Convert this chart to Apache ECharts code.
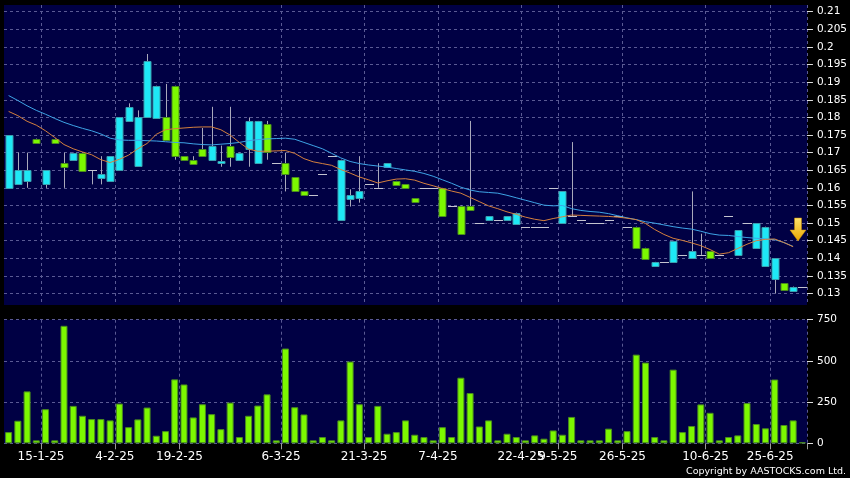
<!DOCTYPE html>
<html>
<head>
<meta charset="utf-8">
<script src="https://cdn.jsdelivr.net/npm/echarts@6/dist/echarts.min.js"></script>
<style>
  html, body { margin: 0; padding: 0; background: #000; }
  #chart { width: 850px; height: 478px; }
</style>
</head>
<body>
<div id="chart"></div>
<script>
const dates = ['9-1-25','10-1-25','13-1-25','14-1-25','15-1-25','16-1-25','17-1-25','20-1-25','21-1-25','23-1-25',
  '24-1-25','3-2-25','4-2-25','5-2-25','6-2-25','7-2-25','10-2-25','12-2-25','17-2-25','19-2-25',
  '20-2-25','21-2-25','24-2-25','25-2-25','26-2-25','27-2-25','28-2-25','3-3-25','4-3-25','5-3-25',
  '6-3-25','7-3-25','10-3-25','11-3-25','12-3-25','13-3-25','14-3-25','18-3-25','20-3-25','21-3-25',
  '24-3-25','25-3-25','26-3-25','27-3-25','31-3-25','1-4-25','3-4-25','7-4-25','8-4-25','9-4-25',
  '10-4-25','11-4-25','14-4-25','15-4-25','16-4-25','17-4-25','22-4-25','24-4-25','29-4-25','6-5-25',
  '9-5-25','12-5-25','13-5-25','15-5-25','19-5-25','21-5-25','23-5-25','26-5-25','27-5-25','28-5-25',
  '29-5-25','30-5-25','2-6-25','3-6-25','4-6-25','9-6-25','10-6-25','11-6-25','13-6-25','16-6-25',
  '18-6-25','20-6-25','24-6-25','25-6-25','26-6-25','27-6-25','30-6-25'];

const tickLabels = ['15-1-25','4-2-25','19-2-25','6-3-25','21-3-25','7-4-25','22-4-25','9-5-25','26-5-25','10-6-25','25-6-25'];

const opens = [.160,.161,.162,.174,.161,.174,.167,.168,.170,.165,
  .163,.162,.165,.179,.166,.180,.180,.180,.189,.169,
  .168,.171,.168,.167,.172,.168,.171,.167,.178,.167,
  .167,.163,.159,.158,.164,.169,.151,.157,.157,.161,
  .160,.166,.162,.161,.157,.160,.160,.160,.155,.155,
  .155,.150,.151,.151,.151,.150,.149,.149,.149,.160,
  .150,.152,.151,.150,.150,.151,.152,.149,.149,.143,
  .138,.139,.139,.141,.140,.141,.142,.141,.152,.141,
  .150,.143,.138,.134,.133,.131,.132];
const closes = [.175,.165,.165,.173,.165,.173,.166,.170,.165,.165,
  .164,.169,.180,.183,.180,.196,.189,.1735,.169,.168,
  .167,.169,.172,.1677,.169,.170,.179,.179,.170,.167,
  .164,.159,.158,.158,.164,.169,.168,.158,.159,.161,
  .160,.167,.161,.160,.156,.160,.160,.152,.155,.147,
  .154,.150,.152,.151,.152,.153,.149,.149,.149,.160,
  .159,.152,.151,.150,.150,.151,.152,.149,.143,.140,
  .139,.139,.145,.141,.142,.141,.140,.141,.152,.148,
  .150,.150,.149,.140,.131,.132,.132];
const lows = [.160,.161,.160,.173,.160,.173,.160,.168,.165,.161,
  .161,.162,.165,.179,.166,.180,.180,.1735,.168,.168,
  .167,.169,.168,.166,.166,.168,.166,.167,.168,.167,
  .159,.159,.158,.158,.164,.169,.151,.1547,.1558,.161,
  .160,.166,.161,.160,.156,.160,.160,.152,.155,.147,
  .154,.150,.151,.151,.151,.150,.149,.149,.149,.160,
  .150,.152,.151,.150,.150,.151,.152,.149,.143,.140,
  .138,.139,.139,.141,.140,.141,.140,.141,.152,.141,
  .150,.143,.138,.130,.131,.131,.132];
const highs = [.175,.170,.170,.174,.165,.174,.170,.170,.170,.165,
  .169,.169,.180,.184,.182,.198,.189,.1895,.189,.169,
  .169,.177,.183,.172,.183,.170,.180,.179,.179,.167,
  .170,.163,.159,.158,.164,.169,.168,.1596,.169,.161,
  .167,.167,.162,.161,.157,.160,.160,.160,.155,.155,
  .179,.150,.152,.151,.152,.153,.149,.149,.149,.160,
  .159,.173,.151,.150,.150,.151,.152,.149,.149,.143,
  .139,.139,.145,.141,.159,.147,.142,.141,.152,.148,
  .150,.150,.149,.140,.133,.132,.132];

const volumes = [68,137,315,18,207,18,713,227,167,147,
  147,139,241,98,145,217,46,74,388,357,
  157,237,177,86,247,38,167,229,297,18,
  575,219,175,18,38,18,139,496,237,38,
  227,58,68,139,52,38,18,98,38,398,
  305,102,139,18,58,38,18,48,28,78,
  52,160,18,18,18,89,18,74,538,490,
  38,18,447,68,105,236,185,18,38,48,
  244,117,91,387,111,139,6];

const maShort = [.1817,.1805,.1789,.1778,.1762,.1743,.1723,.1711,.1702,.1694,
  .1680,.1672,.1681,.1693,.1711,.1726,.1752,.1765,.1768,.1770,
  .1772,.1773,.1773,.1765,.1750,.1729,.1710,.1704,.1704,.1705,
  .1706,.1698,.1683,.1674,.1669,.1664,.1652,.1642,.1631,.1623,
  .1614,.1620,.1625,.1626,.1622,.1613,.1606,.1598,.1591,.1585,
  .1573,.1561,.1549,.1541,.1532,.1525,.1517,.1511,.1507,.1513,
  .1518,.1523,.1522,.1521,.1520,.1519,.1517,.1514,.1510,.1499,
  .1482,.1468,.1457,.1451,.1444,.1436,.1425,.1412,.1416,.1428,
  .1440,.1450,.1454,.1455,.1445,.1433,null];
const maLong = [.1862,.1848,.1833,.1820,.1809,.1797,.1786,.1777,.1769,.1762,
  .1753,.1741,.1736,.1735,.1735,.1734,.1733,.1731,.1729,.1728,
  .1725,.1723,.1722,.1724,.1726,.1729,.1734,.1737,.1739,.1740,
  .1741,.1738,.1729,.1720,.1711,.1698,.1685,.1675,.1669,.1665,
  .1662,.1659,.1655,.1651,.1647,.1641,.1633,.1623,.1613,.1602,
  .1594,.1589,.1587,.1585,.1579,.1572,.1565,.1558,.1551,.1549,
  .1550,.1541,.1536,.1533,.1531,.1527,.1521,.1515,.1510,.1504,
  .1500,.1495,.1490,.1486,.1483,.1477,.1470,.1466,.1465,.1462,
  .1459,.1457,.1455,.1453,.1445,.1434,null];

const NAVY = '#000044';
const GRIDC = '#5a5a94';
const CYAN = '#1ee8f6', CYAN_EDGE = '#3a9eae';
const GREEN = '#7cf800', GREEN_EDGE = '#4a8c1e';
const FONT = 'DejaVu Sans';

const isLabel = (idx) => tickLabels.indexOf(dates[idx]) >= 0;
const candleData = dates.map((d, i) => [i, opens[i], closes[i], lows[i], highs[i]]);

function renderCandle(params, api) {
  const i = api.value(0);
  const o = api.value(1), c = api.value(2), lo = api.value(3), hi = api.value(4);
  const pO = api.coord([i, o]);
  const x = Math.round(pO[0]) + 0.5;
  const yO = pO[1], yC = api.coord([i, c])[1];
  const yL = api.coord([i, lo])[1], yH = api.coord([i, hi])[1];
  const bw = 7;
  const children = [];
  if (hi > lo) {
    children.push({ type: 'line', shape: { x1: x, y1: yH, x2: x, y2: yL },
      style: { stroke: '#a9a9bb', lineWidth: 1 } });
  }
  if (o === c) {
    const y = Math.round(yO) + 0.5;
    children.push({ type: 'line', shape: { x1: x - 4.5, y1: y, x2: x + 4.5, y2: y },
      style: { stroke: '#c4c4d0', lineWidth: 1 } });
  } else {
    const up = c > o;
    const top = Math.round(Math.min(yO, yC)) + 0.5;
    const h = Math.max(Math.round(Math.abs(yO - yC)), 2);
    children.push({ type: 'rect', shape: { x: x - bw / 2, y: top, width: bw, height: h },
      style: { fill: up ? CYAN : GREEN, stroke: up ? CYAN_EDGE : GREEN_EDGE, lineWidth: 1 } });
  }
  return { type: 'group', children };
}

const chart = echarts.init(document.getElementById('chart'), null, { renderer: 'canvas' });
const dash = { color: GRIDC, type: [3, 3], width: 1 };
chart.setOption({
  animation: false,
  backgroundColor: '#000',
  grid: [
    { left: 4, top: 5, width: 803, height: 300, show: true, backgroundColor: NAVY, borderWidth: 0 },
    { left: 4, top: 11.7, width: 803, height: 281.9, show: false },
    { left: 4, top: 319.7, width: 803, height: 123.6, show: true, backgroundColor: NAVY, borderWidth: 0 }
  ],
  xAxis: [
    { type: 'category', gridIndex: 0, data: dates, boundaryGap: true,
      axisLine: { show: false }, axisTick: { show: false }, axisLabel: { show: false },
      splitLine: { show: true, interval: isLabel, lineStyle: dash } },
    { type: 'category', gridIndex: 1, data: dates, boundaryGap: true, show: false },
    { type: 'category', gridIndex: 2, data: dates, boundaryGap: true,
      axisLine: { show: false },
      axisTick: { show: true, interval: isLabel, length: 6, lineStyle: { color: '#9a9a9a' } },
      axisLabel: { interval: isLabel, color: '#fff', fontSize: 12, fontFamily: FONT, margin: 8, padding: [0, 9, 0, 0] },
      splitLine: { show: true, interval: isLabel, lineStyle: dash } }
  ],
  yAxis: [
    { type: 'value', gridIndex: 0, show: false },
    { type: 'value', gridIndex: 1, position: 'right', min: 0.13, max: 0.21, interval: 0.005,
      axisLine: { show: false },
      axisTick: { show: true, length: 6, lineStyle: { color: '#ddd' } },
      axisLabel: { color: '#fff', fontSize: 10.5, fontFamily: FONT, margin: 10,
        formatter: v => String(+v.toFixed(3)) },
      splitLine: { show: true, lineStyle: dash } },
    { type: 'value', gridIndex: 2, position: 'right', min: 0, max: 750, interval: 250,
      axisLine: { show: false },
      axisTick: { show: true, length: 6, lineStyle: { color: '#ddd' } },
      axisLabel: { color: '#fff', fontSize: 10.5, fontFamily: FONT, margin: 10 },
      splitLine: { show: true, lineStyle: dash } }
  ],
  series: [
    { type: 'custom', xAxisIndex: 1, yAxisIndex: 1, data: candleData,
      encode: { x: 0, y: [1, 2, 3, 4] }, renderItem: renderCandle, clip: false, z: 2 },
    { type: 'line', xAxisIndex: 1, yAxisIndex: 1, data: maLong, showSymbol: false, symbol: 'none',
      lineStyle: { color: '#3ea4e6', width: 1 }, z: 3 },
    { type: 'line', xAxisIndex: 1, yAxisIndex: 1, data: maShort, showSymbol: false, symbol: 'none',
      lineStyle: { color: '#d5803e', width: 1 }, z: 3 },
    { type: 'bar', xAxisIndex: 2, yAxisIndex: 2, data: volumes, barWidth: 7,
      itemStyle: { color: GREEN, borderColor: GREEN_EDGE, borderWidth: 1 } }
  ],
  graphic: [
    { type: 'polygon', z: 10,
      shape: { points: [[794.5, 218], [801.5, 218], [801.5, 230], [806, 230], [798, 241], [790, 230], [794.5, 230]] },
      style: { fill: { type: 'linear', x: 0, y: 0, x2: 0, y2: 1,
        colorStops: [{ offset: 0, color: '#ffe46a' }, { offset: 1, color: '#e8a400' }] },
        stroke: '#c88a00', lineWidth: 0.5 } },
    { type: 'text', z: 10,
      style: { text: 'Copyright by AASTOCKS.com Ltd.', x: 846, y: 471.5, align: 'right', verticalAlign: 'middle',
        fill: '#fff', fontSize: 9.5, fontFamily: FONT } }
  ]
});
</script>
</body>
</html>
